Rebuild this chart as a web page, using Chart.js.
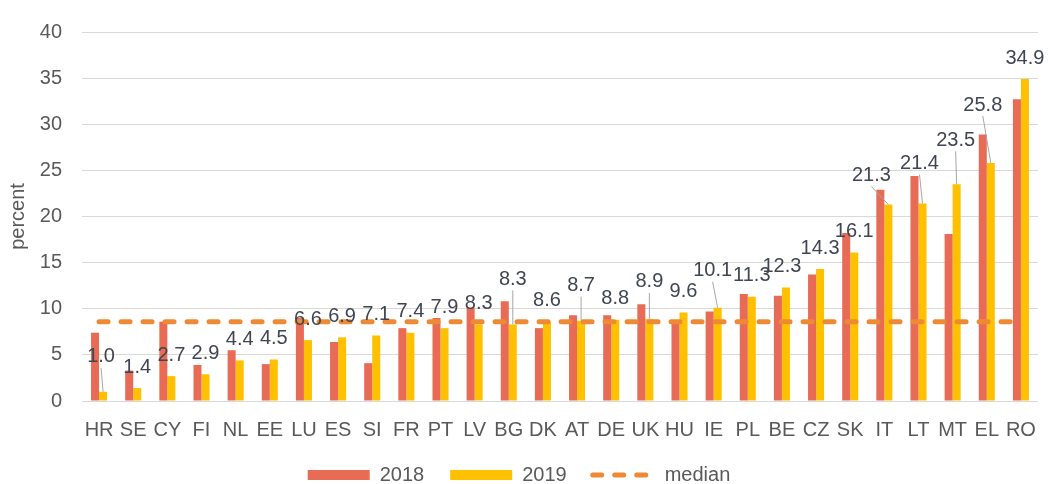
<!DOCTYPE html>
<html>
<head>
<meta charset="utf-8">
<script src="https://cdn.jsdelivr.net/npm/chart.js@4"></script>
<style>
  html, body { margin: 0; padding: 0; background: #fff; }
  #wrap { width: 1048px; height: 484px; }
</style>
</head>
<body>
<div id="wrap"><canvas id="chart"></canvas></div>
<script>
const countries = ["HR", "SE", "CY", "FI", "NL", "EE", "LU", "ES", "SI", "FR", "PT", "LV", "BG", "DK",
    "AT", "DE", "UK", "HU", "IE", "PL", "BE", "CZ", "SK", "IT", "LT", "MT", "EL", "RO"];
const values2018 = [7.4, 3.3, 8.6, 3.9, 5.5, 4.0, 9.0, 6.4, 4.1, 7.9, 9.0, 10.1, 10.8, 7.9,
    9.3, 9.3, 10.5, 8.6, 9.7, 11.6, 11.4, 13.7, 18.2, 22.9, 24.4, 18.1, 28.9, 32.7];
const values2019 = [1.0, 1.4, 2.7, 2.9, 4.4, 4.5, 6.6, 6.9, 7.1, 7.4, 7.9, 8.3, 8.3, 8.6,
    8.7, 8.8, 8.9, 9.6, 10.1, 11.3, 12.3, 14.3, 16.1, 21.3, 21.4, 23.5, 25.8, 34.9];
const medianValue = 8.6;
const yTicks = [0, 5, 10, 15, 20, 25, 30, 35, 40];

const FONT = "'Liberation Sans', Arial, sans-serif";

// value labels above the 2019 bars, some moved up with a leader line (as in the original)
const valueLabels = {
    id: "valueLabels",
    afterDatasetsDraw(chart, args, opts) {
        const ctx = chart.ctx;
        const meta = chart.getDatasetMeta(1);
        ctx.save();
        ctx.font = "20px " + FONT;
        ctx.textAlign = "center";
        ctx.textBaseline = "middle";
        meta.data.forEach((bar, i) => {
            const nudge = opts.nudges[i] || [0, 0];
            const cx = bar.x + nudge[0];
            const cy = bar.y - 21 + nudge[1];
            if (nudge[1] <= -8) {
                ctx.strokeStyle = "#A6A6A6";
                ctx.lineWidth = 1;
                ctx.beginPath();
                ctx.moveTo(cx, cy + 11);
                ctx.lineTo(bar.x, bar.y);
                ctx.stroke();
            }
            ctx.fillStyle = "#404552";
            ctx.fillText(values2019[i].toFixed(1), cx, cy);
        });
        ctx.restore();
    },
};

const ctx = document.getElementById("chart").getContext("2d");
const chart = new Chart(ctx, {
    data: {
        labels: countries,
        datasets: [
            {
                type: "bar",
                label: "2018",
                data: values2018,
                backgroundColor: "#E86B55",
                categoryPercentage: 0.47,
                barPercentage: 1,
                order: 1,
            },
            {
                type: "bar",
                label: "2019",
                data: values2019,
                backgroundColor: "#FFC000",
                categoryPercentage: 0.47,
                barPercentage: 1,
                order: 1,
            },
            {
                type: "line",
                label: "median",
                data: countries.map(() => medianValue),
                borderColor: "#EE8A33",
                borderWidth: 5,
                borderDash: [9, 13],
                borderCapStyle: "round",
                pointRadius: 0,
                fill: false,
                order: 0,
            },
        ],
    },
    options: {
        responsive: true,
        maintainAspectRatio: false,
        animation: false,
        layout: { padding: { top: 28, right: 10, left: 0, bottom: 0 } },
        scales: {
            x: {
                grid: { display: false },
                border: { display: false },
                ticks: {
                    color: "#595959",
                    font: { family: FONT, size: 20 },
                    padding: 9,
                    autoSkip: false,
                    maxRotation: 0,
                    minRotation: 0,
                },
                afterFit: (s) => { s.height = 38; },
            },
            y: {
                min: 0,
                max: 40,
                afterBuildTicks: (s) => { s.ticks = yTicks.map((v) => ({ value: v })); },
                grid: { color: "#D9D9D9", lineWidth: 1, drawTicks: false },
                border: { display: false },
                ticks: {
                    color: "#595959",
                    font: { family: FONT, size: 20 },
                    padding: 20,
                },
                title: {
                    display: true,
                    text: "percent",
                    color: "#595959",
                    font: { family: FONT, size: 20 },
                    padding: { top: 6, bottom: 0 },
                },
                afterFit: (s) => { s.width = 82; },
            },
        },
        plugins: {
            legend: {
                position: "bottom",
                maxHeight: 45,
                labels: {
                    usePointStyle: true,
                    pointStyleWidth: 62,
                    boxHeight: 10,
                    padding: 26,
                    color: "#595959",
                    font: { family: FONT, size: 20 },
                    generateLabels: (chart) => chart.data.datasets.map((ds, i) => ({
                        text: ds.label,
                        datasetIndex: i,
                        hidden: false,
                        fontColor: "#595959",
                        pointStyle: ds.type === "line" ? "line" : "rect",
                        fillStyle: ds.type === "line" ? "rgba(0,0,0,0)" : ds.backgroundColor,
                        strokeStyle: ds.type === "line" ? ds.borderColor : ds.backgroundColor,
                        lineWidth: ds.type === "line" ? 5 : 0,
                        lineDash: ds.type === "line" ? [9, 13] : [],
                        lineCap: ds.type === "line" ? "round" : "butt",
                    })),
                },
            },
            tooltip: { enabled: false },
            valueLabels: {
                nudges: {
                    0: [-2, -14],
                    12: [0, -24],
                    14: [0, -14],
                    16: [0, -16],
                    18: [-5, -16],
                    20: [-4, 0],
                    23: [-17, -8],
                    24: [-3, -19],
                    25: [-1, -23],
                    26: [-8, -37],
                },
            },
        },
    },
    plugins: [valueLabels],
});
</script>
</body>
</html>
